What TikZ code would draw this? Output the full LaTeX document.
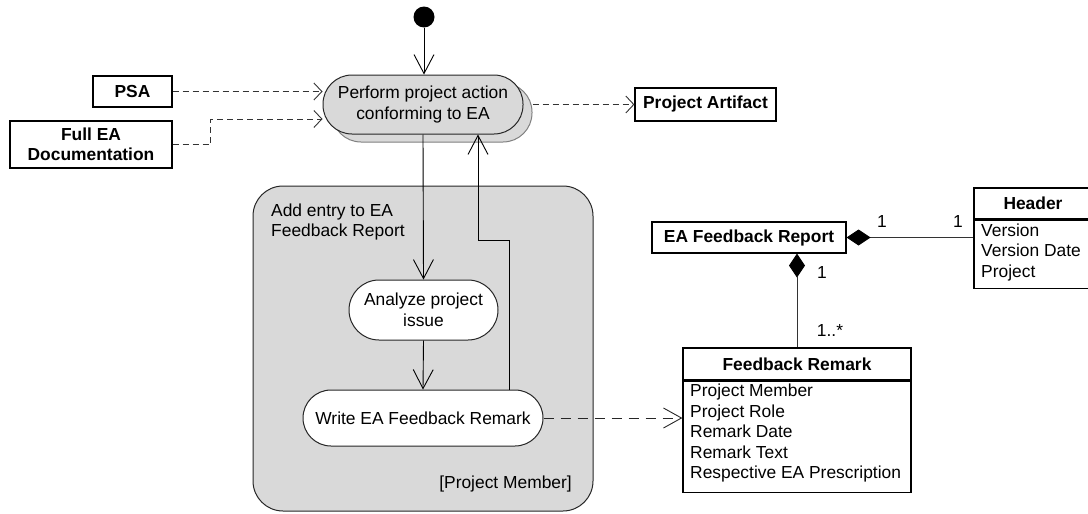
\documentclass[tikz,border=0pt]{standalone}
\usepackage{fontspec}
\setmainfont{Liberation Sans}
\usetikzlibrary{arrows.meta,calc}

\definecolor{actfill}{HTML}{D9D9D9}
\definecolor{edgedark}{HTML}{262626}
\definecolor{shadowedge}{HTML}{808080}

\tikzset{
  txt/.style={font=\fontsize{17.4}{20.5}\selectfont},
  txtbf/.style={font=\fontsize{17.4}{20.5}\selectfont\bfseries},
  action/.style={txt, draw=edgedark, line width=1pt, fill=actfill, align=center, inner sep=0pt},
  whiteaction/.style={action, fill=white},
  objbox/.style={txtbf, draw=black, line width=1.2pt, fill=white, align=center, inner sep=0pt},
  flow/.style={line width=0.9pt, -{Straight Barb[length=19pt,width=20pt,line width=0.9pt]}},
  dep/.style={line width=0.9pt, dash pattern=on 6pt off 4pt, draw=black!80,
              -{Straight Barb[length=8pt,width=17pt,line width=0.9pt]}},
  deplong/.style={line width=0.9pt, dash pattern=on 10pt off 7pt, draw=black!85,
              -{Straight Barb[length=18pt,width=20pt,line width=0.9pt]}},
  comp/.style={line width=0.9pt, draw=black!80, {Diamond[length=24pt,width=16pt,black]}-},
  mult/.style={txt, inner sep=0pt},
}

\begin{document}
\begin{tikzpicture}[x=1pt,y=-1pt]
\useasboundingbox (0,0) rectangle (1088,514);

% initial node
\node[circle, fill=black, minimum size=21pt, inner sep=0pt] (init) at (424,17) {};

% main action with its stacked shadow
\node[action, draw=shadowedge, minimum width=200pt, minimum height=59pt, rounded corners=29pt]
  (performshadow) at (432,112.5) {};
\node[action, minimum width=200pt, minimum height=59pt, rounded corners=29pt]
  (perform) at (423,104.5) {Perform project action\\conforming to EA};

% input / output objects
\node[objbox, minimum width=79pt, minimum height=31pt] (psa) at (132.5,91.5) {PSA};
\node[objbox, minimum width=162pt, minimum height=47pt] (fulldoc) at (91,144.5) {Full EA\\Documentation};
\node[objbox, minimum width=141pt, minimum height=33pt] (artifact) at (705.5,104.5) {Project Artifact};

% activity partition
\node[draw=edgedark, line width=1pt, fill=actfill, rounded corners=30pt,
      minimum width=340pt, minimum height=325pt] (partition) at (423,348.5) {};
\node[txt, anchor=west, align=left, inner sep=0pt] (parttitle) at (271,222) {Add entry to EA\\Feedback Report};
\node[txt, anchor=east, inner sep=0pt] (partrole) at (572,484) {[Project Member]};

% nested actions
\node[whiteaction, minimum width=149pt, minimum height=60pt, rounded corners=30pt]
  (analyze) at (423.5,310) {Analyze project\\issue};
\node[whiteaction, minimum width=240pt, minimum height=56pt, rounded corners=28pt]
  (write) at (423,418) {Write EA Feedback Remark};

% class diagram
\node[objbox, minimum width=194pt, minimum height=31pt] (report) at (749,237.5) {EA Feedback Report};

\node[objbox, minimum width=118pt, minimum height=31pt] (headertitle) at (1033,203.5) {Header};
\node[draw=black, line width=1.2pt, fill=white, minimum width=118pt, minimum height=68pt,
      anchor=north, inner sep=0pt] (headerattr) at (headertitle.south) {};
\node[txt, anchor=west, align=left, inner sep=0pt] (headertext) at (981,252)
  {Version\\Version Date\\Project};

\node[objbox, minimum width=228pt, minimum height=32pt] (remarktitle) at (797,364) {Feedback Remark};
\node[draw=black, line width=1.2pt, fill=white, minimum width=228pt, minimum height=111pt,
      anchor=north, inner sep=0pt] (remarkattr) at (remarktitle.south) {};
\node[txt, anchor=west, align=left, inner sep=0pt] (remarktext) at (690,433)
  {Project Member\\Project Role\\Remark Date\\Remark Text\\Respective EA Prescription};

% control flow
\draw[flow] (init) -- (init |- perform.north);
\draw[flow] (perform.south) -- (analyze.north);
\draw[flow] (analyze.south) -- (write.north);
\coordinate (retbend) at (478,240);
\draw[flow] ($(write.north)+(86,0)$) |- (retbend) -- (retbend |- perform.south);

% object flow
\draw[dep] (psa.east) -- (psa.east -| perform.west);
\draw[dep] (fulldoc.east) -- ++(38,0) |- ($(perform.west)+(0,14.5)$);
\draw[dep] (perform.east -| performshadow.east) -- (artifact.west);
\draw[deplong] (write.east) -- (write.east -| remarkattr.west);

% compositions
\draw[comp] (report.east) -- (report.east -| headerattr.west);
\draw[comp] (report.south -| remarktitle.north) -- (remarktitle.north);

% multiplicities
\node[mult] (m1) at (882,222) {1};
\node[mult] (m2) at (958,222) {1};
\node[mult] (m3) at (822,273) {1};
\node[mult] (m4) at (830,331) {1..*};
\end{tikzpicture}
\end{document}
